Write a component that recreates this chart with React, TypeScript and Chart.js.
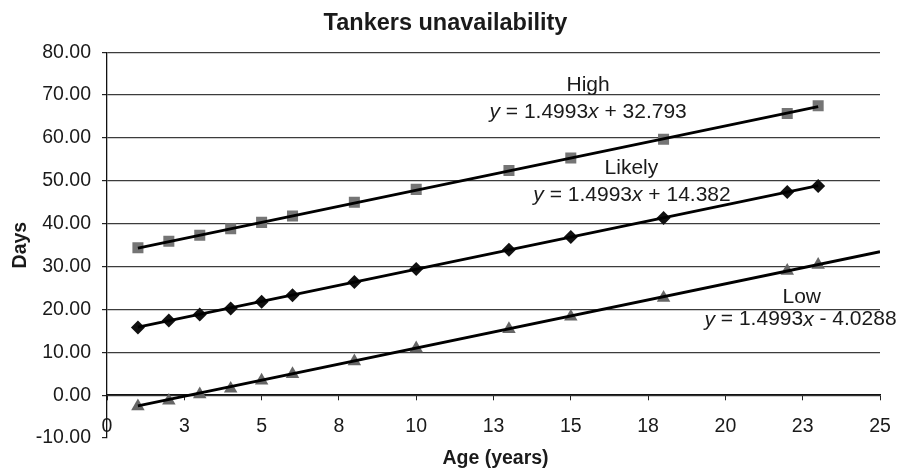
import React, { useEffect, useRef } from "react";
import { Chart, registerables } from "chart.js";

Chart.register(...registerables);

// ---- Data ----
const ages = [1, 2, 3, 4, 5, 6, 8, 10, 13, 15, 18, 22, 23];
const highDays = [34.4, 35.9, 37.3, 38.8, 40.3, 41.8, 45.0, 48.0, 52.4, 55.3, 59.7, 65.7, 67.5];
const likelyDays = [15.8, 17.4, 18.8, 20.2, 21.8, 23.3, 26.4, 29.4, 33.9, 36.9, 41.3, 47.4, 48.8];
const lowDays = [-2.6, -1.3, 0.2, 1.5, 3.4, 4.9, 7.9, 10.9, 15.4, 18.3, 22.7, 29.0, 30.4];

const xTickLabels = ["0", "3", "5", "8", "10", "13", "15", "18", "20", "23", "25"];

// Trendline equations (as printed on the chart)
const trendSlope = 1.4993;
const highIntercept = 32.793;
const likelyIntercept = 14.382;
const lowIntercept = -4.0288;
const highTrendRange = [1, 23];
const likelyTrendRange = [1, 23];
const lowTrendRange = [1, 25];

// Label placement (in data units)
const labelSpecs = [
  { name: "High", intercept: highIntercept, nameAt: [15.56, 72.4], eqAt: [15.56, 66.0] },
  { name: "Likely", intercept: likelyIntercept, nameAt: [16.96, 52.9], eqAt: [16.98, 46.6] },
  { name: "Low", intercept: lowIntercept, nameAt: [22.47, 22.8], eqAt: [22.43, 17.6] },
];

const xAxisTitle = "Age (years)";

const FONT = '"Liberation Sans", Arial, Helvetica, sans-serif';
const TEXT = "#1a1a1a";
const LABEL_SIZE = 21;

const trendPoints = (b: number, range: number[]) =>
  range.map((x) => ({ x, y: trendSlope * x + b }));

const toPoints = (ys: number[]) => ages.map((a, i) => ({ x: a, y: ys[i] }));

const trendLabelPlugin = {
  id: "trendLabels",
  afterDatasetsDraw(chart: any) {
    const { ctx, scales, chartArea } = chart;
    const xs = scales.x;
    const ys = scales.y;
    ctx.save();
    ctx.fillStyle = TEXT;
    ctx.textBaseline = "middle";
    for (const s of labelSpecs) {
      ctx.font = `${LABEL_SIZE}px ${FONT}`;
      ctx.textAlign = "center";
      ctx.fillText(s.name, xs.getPixelForValue(s.nameAt[0]), ys.getPixelForValue(s.nameAt[1]));
      const sign = s.intercept < 0 ? "-" : "+";
      const parts = [
        { t: "y", it: true },
        { t: ` = ${trendSlope}`, it: false },
        { t: "x", it: true },
        { t: ` ${sign} ${Math.abs(s.intercept)}`, it: false },
      ];
      let total = 0;
      const widths = parts.map((p) => {
        ctx.font = `${p.it ? "italic " : ""}${LABEL_SIZE}px ${FONT}`;
        const w = ctx.measureText(p.t).width;
        total += w;
        return w;
      });
      let cx = xs.getPixelForValue(s.eqAt[0]) - total / 2;
      const cy = ys.getPixelForValue(s.eqAt[1]);
      ctx.textAlign = "left";
      parts.forEach((p, i) => {
        ctx.font = `${p.it ? "italic " : ""}${LABEL_SIZE}px ${FONT}`;
        ctx.fillText(p.t, cx, cy);
        cx += widths[i];
      });
    }
    // x-axis title
    ctx.font = `bold 19.5px ${FONT}`;
    ctx.textAlign = "center";
    ctx.fillText(xAxisTitle, (chartArea.left + chartArea.right) / 2 + 2, chartArea.bottom + 20.5);
    ctx.restore();
  },
};

export default function App() {
  const canvasRef = useRef<HTMLCanvasElement | null>(null);

  useEffect(() => {
    if (!canvasRef.current) return;
    Chart.defaults.font.family = FONT;
    Chart.defaults.color = TEXT;
    const trendStyle = {
      showLine: true,
      borderColor: "#000",
      borderWidth: 2.8,
      pointRadius: 0,
      order: 0,
    };
    const chart = new Chart(canvasRef.current, {
      type: "scatter",
      data: {
        datasets: [
          { label: "High trend", data: trendPoints(highIntercept, highTrendRange), ...trendStyle },
          { label: "Likely trend", data: trendPoints(likelyIntercept, likelyTrendRange), ...trendStyle },
          { label: "Low trend", data: trendPoints(lowIntercept, lowTrendRange), ...trendStyle },
          {
            label: "High",
            data: toPoints(highDays),
            pointStyle: "rect",
            pointRadius: 7.8,
            backgroundColor: "#757575",
            borderColor: "#757575",
            borderWidth: 0,
            order: 1,
          },
          {
            label: "Likely",
            data: toPoints(likelyDays),
            pointStyle: "rectRot",
            pointRadius: 7,
            backgroundColor: "#111",
            borderColor: "#111",
            borderWidth: 0,
            order: 1,
          },
          {
            label: "Low",
            data: toPoints(lowDays),
            pointStyle: "triangle",
            pointRadius: 7.8,
            backgroundColor: "#666",
            borderColor: "#666",
            borderWidth: 0,
            order: 1,
          },
        ],
      },
      options: {
        animation: false,
        responsive: false,
        devicePixelRatio: 1,
        layout: { padding: { left: 0, right: 9, top: 0, bottom: 33 } },
        plugins: {
          legend: { display: false },
          tooltip: { enabled: false },
          title: {
            display: true,
            text: "Tankers unavailability",
            color: TEXT,
            font: { family: FONT, size: 23.5, weight: "bold" },
            padding: { top: 9, bottom: 15 },
          },
        },
        scales: {
          x: {
            type: "linear",
            position: { y: 0 } as any,
            min: 0,
            max: 25,
            ticks: {
              stepSize: 2.5,
              autoSkip: false,
              maxRotation: 0,
              color: TEXT,
              font: { size: 19.5 },
              padding: 15,
              callback: (_v: any, i: number) => xTickLabels[i],
            },
            grid: { drawOnChartArea: false, drawTicks: true, tickLength: 5, color: "#222" },
            border: { display: true, color: "#111", width: 1.3 },
            title: { display: false },
            afterFit: (s: any) => {
              s.paddingLeft = 0;
              s.paddingRight = 20;
            },
          },
          y: {
            min: -10,
            max: 80,
            ticks: {
              stepSize: 10,
              color: TEXT,
              font: { size: 19.5 },
              padding: 11,
              callback: (v: any) => Number(v).toFixed(2),
            },
            grid: {
              color: (c: any) => (c.tick && c.tick.value === -10 ? "rgba(0,0,0,0)" : "#3c3c3c"),
              tickColor: "#222",
              tickLength: 5,
              lineWidth: 1.2,
            },
            border: { display: true, color: "#111", width: 1.3 },
            title: {
              display: true,
              text: "Days",
              color: TEXT,
              font: { size: 19.5, weight: "bold" },
              padding: { top: 9, bottom: 0 },
            },
            afterFit: (s: any) => {
              s.width = 107;
            },
          },
        },
      },
      plugins: [trendLabelPlugin],
    } as any);
    return () => chart.destroy();
  }, []);

  return (
    <div style={{ position: "absolute", left: 0, top: 0, width: 900, height: 471, background: "#fff" }}>
      <canvas ref={canvasRef} width={900} height={471} />
    </div>
  );
}
